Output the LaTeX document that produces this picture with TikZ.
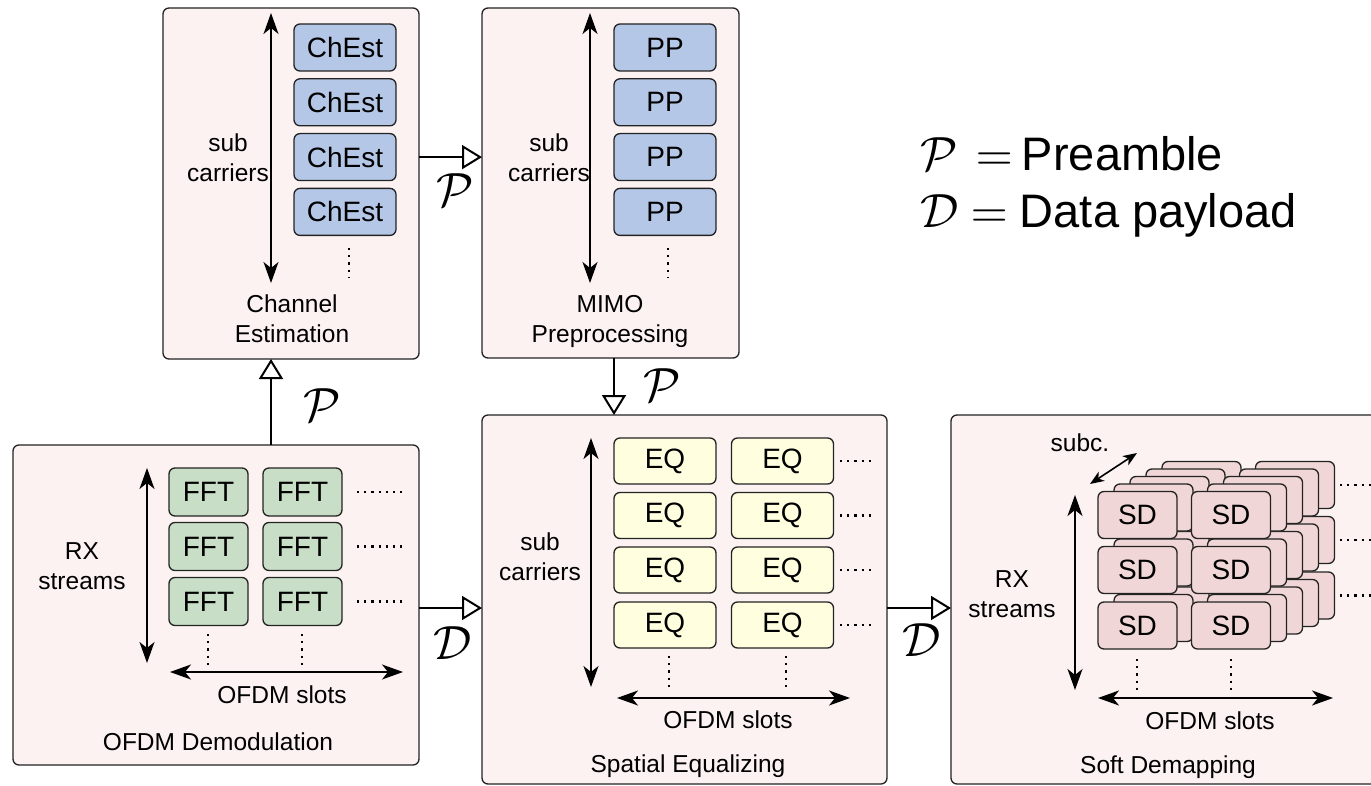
\documentclass[tikz,border=0pt]{standalone}
\usepackage{graphicx}
\usepackage{fontspec}
\setmainfont{Liberation Sans}
\usetikzlibrary{arrows.meta}
\definecolor{outerfill}{RGB}{253,242,242}
\definecolor{chfill}{RGB}{180,199,231}
\definecolor{fftfill}{RGB}{200,222,198}
\definecolor{eqfill}{RGB}{255,255,224}
\definecolor{sdfill}{RGB}{240,214,214}
\definecolor{edge}{RGB}{35,35,35}
\newcommand{\bigmath}[1]{\scalebox{4.8}{\fontsize{10}{12}\selectfont$#1$}}
\begin{document}
\begin{tikzpicture}[x=1pt,y=-1pt,
 outer/.style={draw=edge, line width=1.3pt, fill=outerfill, rounded corners=6pt, inner sep=0pt, outer sep=0pt},
 unit/.style={draw=edge, line width=1.3pt, rounded corners=6pt, inner sep=0pt, outer sep=0pt, font=\fontsize{28}{32}\selectfont},
 lbl/.style={font=\fontsize{24.5}{30}\selectfont, align=center, inner sep=0pt},
 dbl/.style={{Stealth[length=21pt,width=15pt,inset=6pt]}-{Stealth[length=21pt,width=15pt,inset=6pt]}, line width=1.8pt},
 conn/.style={-{Triangle[open,length=20pt,width=24pt]}, line width=2pt},
 dots/.style={line width=2.2pt, dash pattern=on 2.2pt off 5pt},
 ml/.style={font=\fontsize{47}{52}\selectfont, inner sep=0pt}]
\clip (0,0) rectangle (1371,786);
\fill[white] (0,0) rectangle (1371,786);

% ---------- outer boxes ----------
\node[outer, minimum width=256pt, minimum height=351pt] (ce) at (291,183.5) {};
\node[outer, minimum width=257pt, minimum height=350pt] (mimo) at (610.5,183) {};
\node[outer, minimum width=406pt, minimum height=320pt] (demod) at (216,605) {};
\node[outer, minimum width=405pt, minimum height=369pt] (speq) at (684.5,599.5) {};
\node[outer, minimum width=434pt, minimum height=369pt] (soft) at (1168,599.5) {};

% ---------- Channel estimation ----------
\foreach \i in {1,...,4} {
  \node[unit, fill=chfill, minimum width=102pt, minimum height=47pt] (ch\i) at (345,{47.5+54.8*(\i-1)}) {ChEst};
  \node[unit, fill=chfill, minimum width=102pt, minimum height=47pt] (pp\i) at (665,{47.5+54.8*(\i-1)}) {PP};
}
\coordinate (ceA) at (271,13); \coordinate (ceB) at (271,283);
\draw[dbl] (ceA) -- (ceB);
\draw[dots] (349,248) -- (349,278);
\node[lbl] (cesub) at (228,158) {sub\\carriers};
\node[lbl] (cetitle) at (292,319) {Channel\\Estimation};

\coordinate (mmA) at (590,13); \coordinate (mmB) at (590,283);
\draw[dbl] (mmA) -- (mmB);
\draw[dots] (668,248) -- (668,278);
\node[lbl] (mmsub) at (549,158) {sub\\carriers};
\node[lbl] (mmtitle) at (610,321) {MIMO\\Preprocessing};

% ---------- OFDM demodulation ----------
\foreach \r/\y in {1/492,2/546.5,3/601.5} {
  \node[unit, fill=fftfill, minimum width=79pt, minimum height=48pt] (f\r1) at (208.5,\y) {FFT};
  \node[unit, fill=fftfill, minimum width=79pt, minimum height=48pt] (f\r2) at (302.5,\y) {FFT};
  \draw[dots] (357,\y) -- (405,\y);
}
\draw[dots] (208,634) -- (208,665);
\draw[dots] (302,634) -- (302,665);
\coordinate (dmA) at (147,468); \coordinate (dmB) at (147,663);
\draw[dbl] (dmA) -- (dmB);
\coordinate (dmC) at (170,672); \coordinate (dmD) at (403,672);
\draw[dbl] (dmC) -- (dmD);
\node[lbl] (dmrx) at (82,566) {RX\\streams};
\node[lbl] (dmslots) at (282,695) {OFDM slots};
\node[lbl] (dmtitle) at (218,742) {OFDM Demodulation};

% ---------- Spatial equalizing ----------
\foreach \r/\y in {1/461,2/515.5,3/570,4/625} {
  \node[unit, fill=eqfill, minimum width=102pt, minimum height=46pt] (e\r1) at (665,\y) {EQ};
  \node[unit, fill=eqfill, minimum width=102pt, minimum height=46pt] (e\r2) at (782.5,\y) {EQ};
  \draw[dots] (840,\y) -- (873,\y);
}
\draw[dots] (669,656) -- (669,687);
\draw[dots] (786,656) -- (786,687);
\coordinate (eqA) at (591,438); \coordinate (eqB) at (591,687);
\draw[dbl] (eqA) -- (eqB);
\coordinate (eqC) at (617,698); \coordinate (eqD) at (850,698);
\draw[dbl] (eqC) -- (eqD);
\node[lbl] (eqsub) at (540,557) {sub\\carriers};
\node[lbl] (eqslots) at (728,720) {OFDM slots};
\node[lbl] (eqtitle) at (688,766) {Spatial Equalizing};

% ---------- Soft demapping ----------
\foreach \k in {4,3,2,1} {
  \foreach \r/\y in {1/515,2/570,3/625.5} {
    \node[unit, fill=sdfill, minimum width=79pt, minimum height=47pt] (sdb\k\r1) at ({1137.5+16*\k},{\y-7.5*\k}) {};
    \node[unit, fill=sdfill, minimum width=79pt, minimum height=47pt] (sdb\k\r2) at ({1231+16*\k},{\y-7.5*\k}) {};
  }
}
\foreach \r/\y in {1/515,2/570,3/625.5} {
  \node[unit, fill=sdfill, minimum width=79pt, minimum height=47pt] (sd\r1) at (1137.5,\y) {SD};
  \node[unit, fill=sdfill, minimum width=79pt, minimum height=47pt] (sd\r2) at (1231,\y) {SD};
  \draw[dots] (1340,{\y-30}) -- (1375,{\y-30});
}
\draw[dots] (1137,659) -- (1137,690);
\draw[dots] (1231,659) -- (1231,690);
\coordinate (sdA) at (1075,495); \coordinate (sdB) at (1075,690);
\draw[dbl] (sdA) -- (sdB);
\coordinate (sdC) at (1098,698); \coordinate (sdD) at (1333,698);
\draw[dbl] (sdC) -- (sdD);
\coordinate (sdE) at (1090,484); \coordinate (sdF) at (1137,453);
\draw[{Stealth[length=14pt,width=11pt,inset=4pt]}-{Stealth[length=14pt,width=11pt,inset=4pt]}, line width=1.6pt] (sdE) -- (sdF);
\node[lbl] (sdsubc) at (1080,443) {subc.};
\node[lbl] (sdrx) at (1012,594) {RX\\streams};
\node[lbl] (sdslots) at (1210,721) {OFDM slots};
\node[lbl] (sdtitle) at (1168,767) {Soft Demapping};

% ---------- connectors ----------
\coordinate (dline) at (0,608);
\draw[conn] (ce.east |- pp3) -- (mimo.west |- pp3);
\draw[conn] (demod.north -| ceA) -- (ce.south -| ceA);
\draw[conn] (mimo.south -| pp4.west) -- (speq.north -| pp4.west);
\draw[conn] (demod.east |- dline) -- (speq.west |- dline);
\draw[conn] (speq.east |- dline) -- (soft.west |- dline);
\node[inner sep=0pt] (lp1) at (455,190) {\bigmath{\mathcal{P}}};
\node[inner sep=0pt] (lp2) at (322,405) {\bigmath{\mathcal{P}}};
\node[inner sep=0pt] (lp3) at (662,385) {\bigmath{\mathcal{P}}};
\node[inner sep=0pt] (ld1) at (453,643) {\bigmath{\mathcal{D}}};
\node[inner sep=0pt] (ld2) at (922,640) {\bigmath{\mathcal{D}}};

% ---------- legend ----------
\node[ml, anchor=base west] (leg1) at (920,171) {\bigmath{\mathcal{P}}\hspace{18pt}\bigmath{=}\hspace{9pt}Preamble};
\node[ml, anchor=base west] (leg2) at (920,228) {\bigmath{\mathcal{D}}\hspace{12pt}\bigmath{=}\hspace{12pt}Data payload};
\end{tikzpicture}
\end{document}
